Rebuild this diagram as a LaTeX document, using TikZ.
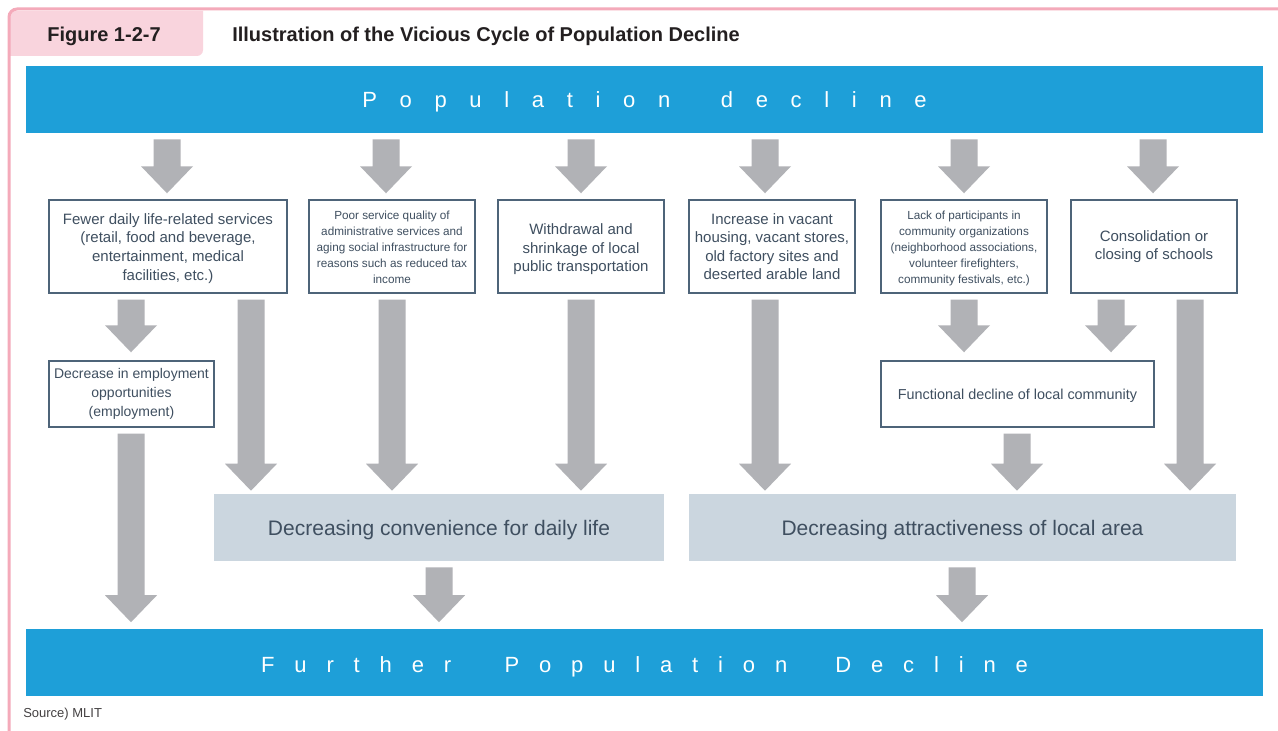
\documentclass[tikz,border=0pt]{standalone}
\usepackage{fontspec}
\setmainfont{Liberation Sans}
\usetikzlibrary{calc}

\definecolor{barblue}{HTML}{1E9FD8}
\definecolor{arrowgray}{HTML}{B1B2B6}
\definecolor{boxline}{HTML}{4E6479}
\definecolor{boxtext}{HTML}{3F4F60}
\definecolor{paleslate}{HTML}{CBD6DF}
\definecolor{framepink}{HTML}{F4AABA}
\definecolor{tabpink}{HTML}{F9D4DD}
\definecolor{titletext}{HTML}{231F20}

% letter-spaced words for the two banners
\newlength{\lsgap}
\makeatletter
\def\spreadword#1{\spread@a#1\relax}
\def\spread@a#1{\ifx#1\relax\unkern\else#1\kern\lsgap\expandafter\spread@a\fi}
\makeatother

% text moved down by #1 while the node keeps its natural size
\newcommand{\dropped}[2]{\raisebox{-#1}[\height][\depth]{#2}}
\newcommand{\droppedlines}[2]{\raisebox{-#1}[\height][\depth]{\begin{tabular}{@{}c@{}}#2\end{tabular}}}

% broad downward arrow from node #2 to node #3 at horizontal position #4 (px);
% optional #1 is the gap left above the target
\newcommand{\blockarrow}[4][4.5pt]{%
  \fill[arrowgray] let \p1=(#2.south), \p2=(#3.north) in
    ({#4*0.75pt-10.125pt},{\y1-4.5pt}) -- ({#4*0.75pt+10.125pt},{\y1-4.5pt})
    -- ({#4*0.75pt+10.125pt},{\y2+#1+20.25pt}) -- ({#4*0.75pt+19.5pt},{\y2+#1+20.25pt})
    -- ({#4*0.75pt},{\y2+#1}) -- ({#4*0.75pt-19.5pt},{\y2+#1+20.25pt})
    -- ({#4*0.75pt-10.125pt},{\y2+#1+20.25pt}) -- cycle;}

\tikzset{
  causebox/.style={draw=boxline, line width=1.1pt, fill=white, text=boxtext,
    align=center, inner sep=0pt},
  banner/.style={fill=barblue, text=white, inner sep=0pt,
    minimum width=927.75pt, minimum height=50.25pt},
  effectbox/.style={fill=paleslate, text=boxtext, inner sep=0pt,
    minimum height=50.25pt, font=\fontsize{15.75}{18}\selectfont},
  bigtext/.style={font=\fontsize{11.25}{13.9}\selectfont},
  smalltext/.style={font=\fontsize{8.8}{12}\selectfont},
  headtext/.style={font=\bfseries\fontsize{15}{17}\selectfont, text=titletext},
}

\begin{document}
\begin{tikzpicture}[x=0.75pt,y=-0.75pt]
\useasboundingbox (0,0) rectangle (1278,731);
\fill[white] (0,0) rectangle (1278,731);

% heading tab and frame
\fill[tabpink] (10,11) -- (203,11) [rounded corners=4.5pt] -- (203,56) [sharp corners] -- (10,56) -- cycle;
\draw[framepink, line width=2.25pt, rounded corners=6pt] (9,731) -- (9,9) -- (1278,9);
\node[headtext] (fig) at (104,36) {Figure 1-2-7};
\node[headtext, anchor=west, inner sep=0pt] (title) at (232,36)
  {Illustration of the Vicious Cycle of Population Decline};

% banners
\node[banner] (top) at (644.5,99.5)
  {\dropped{1.9pt}{\fontsize{16.5}{18}\selectfont\setlength{\lsgap}{17pt}\spreadword{Population}\kern38pt\spreadword{decline}}};
\node[banner] (bot) at (644.5,662)
  {\dropped{3.6pt}{\fontsize{16.5}{18}\selectfont\setlength{\lsgap}{14.9pt}\spreadword{Further}\kern40pt\spreadword{Population}\kern36pt\spreadword{Decline}}};

% first row of causes
\node[causebox, bigtext, minimum width=178.5pt, minimum height=69.75pt] (b1) at (168,246.5)
  {\droppedlines{1.5pt}{Fewer daily life-related services\\(retail, food and beverage,\\entertainment, medical\\facilities, etc.)}};
\node[causebox, smalltext, minimum width=124.5pt, minimum height=69.75pt] (b2) at (392,246.5)
  {\droppedlines{1.5pt}{Poor service quality of\\administrative services and\\aging social infrastructure for\\reasons such as reduced tax\\income}};
\node[causebox, bigtext, minimum width=124.5pt, minimum height=69.75pt] (b3) at (581,246.5)
  {\droppedlines{2.2pt}{Withdrawal and\\shrinkage of local\\public transportation}};
\node[causebox, bigtext, minimum width=124.5pt, minimum height=69.75pt] (b4) at (772,246.5)
  {Increase in vacant\\housing, vacant stores,\\old factory sites and\\deserted arable land};
\node[causebox, smalltext, minimum width=124.5pt, minimum height=69.75pt] (b5) at (964,246.5)
  {\droppedlines{1.1pt}{Lack of participants in\\community organizations\\(neighborhood associations,\\volunteer firefighters,\\community festivals, etc.)}};
\node[causebox, bigtext, minimum width=124.5pt, minimum height=69.75pt] (b6) at (1154,246.5)
  {Consolidation or\\closing of schools};

% second row
\node[causebox, font=\fontsize{10.5}{14.25}\selectfont, minimum width=123.75pt, minimum height=49.5pt] (emp) at (131.5,394)
  {Decrease in employment\\opportunities\\(employment)};
\node[causebox, font=\fontsize{10.8}{13}\selectfont, minimum width=204.75pt, minimum height=49.5pt] (func) at (1017.5,394)
  {\dropped{1.5pt}{Functional decline of local community}};

% consequences
\node[effectbox, minimum width=337.5pt] (conv) at (439,527.5) {\dropped{2.25pt}{Decreasing convenience for daily life}};
\node[effectbox, minimum width=410.25pt] (attr) at (962.5,527.5) {\dropped{2.25pt}{Decreasing attractiveness of local area}};

% arrows
\blockarrow{top}{b1}{167}
\blockarrow{top}{b2}{386}
\blockarrow{top}{b3}{581}
\blockarrow{top}{b4}{765}
\blockarrow{top}{b5}{964}
\blockarrow{top}{b6}{1153}
\blockarrow[6pt]{b1}{emp}{131}
\blockarrow[2.25pt]{b1}{conv}{251}
\blockarrow[2.25pt]{b2}{conv}{392}
\blockarrow[2.25pt]{b3}{conv}{581}
\blockarrow[2.25pt]{b4}{attr}{765}
\blockarrow[6pt]{b5}{func}{964}
\blockarrow[6pt]{b6}{func}{1111}
\blockarrow[2.25pt]{b6}{attr}{1190}
\blockarrow[2.25pt]{func}{attr}{1017}
\blockarrow{emp}{bot}{131}
\blockarrow{conv}{bot}{439}
\blockarrow{attr}{bot}{962}

% source line
\node[anchor=west, inner sep=0pt, font=\fontsize{9.75}{11}\selectfont, text=titletext!85] (src) at (23,714) {Source) MLIT};
\end{tikzpicture}
\end{document}
